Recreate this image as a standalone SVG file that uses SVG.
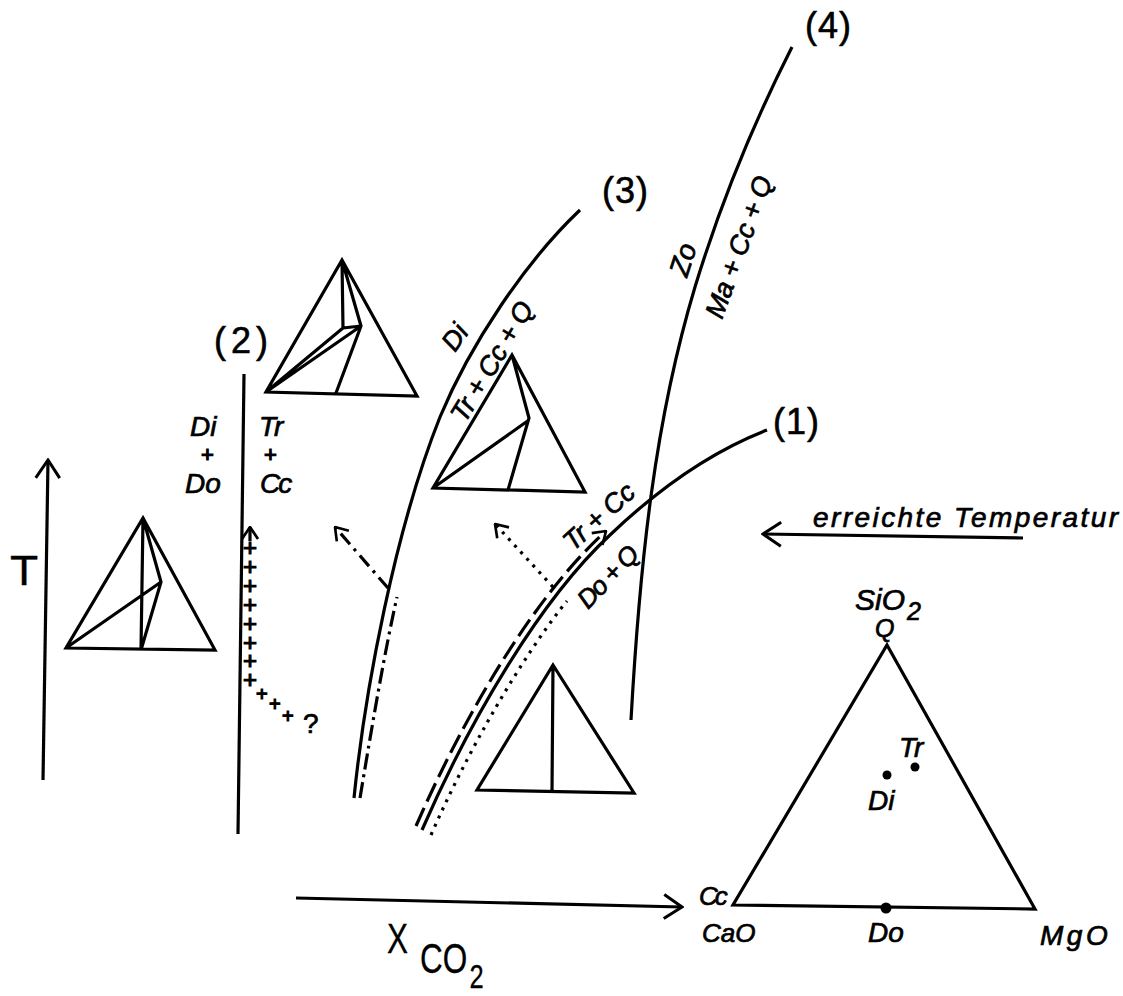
<svg xmlns="http://www.w3.org/2000/svg" width="1123" height="996" viewBox="0 0 1123 996">
<defs>
<marker id="arr" viewBox="0 0 30 30" refX="28" refY="15" markerWidth="30" markerHeight="30" markerUnits="userSpaceOnUse" orient="auto"><path d="M10 3L28 15L10 27" fill="none" stroke="#000" stroke-width="3"/></marker>
<marker id="sm" viewBox="0 0 30 30" refX="28" refY="15" markerWidth="20" markerHeight="20" markerUnits="userSpaceOnUse" orient="auto"><path d="M10 3L28 15L10 27" fill="none" stroke="#000" stroke-width="4"/></marker>
</defs>
<style>
.l{fill:none;stroke:#000;stroke-width:3.2}
.t{fill:none;stroke:#000;stroke-width:3.2;stroke-linejoin:miter}
text{font-family:"Liberation Sans",Arial,sans-serif;font-style:italic;fill:#000;stroke:#000;stroke-width:.7;font-size:28px}
.n{font-style:normal;font-size:36px;letter-spacing:1px;stroke-width:.6}
.u{font-style:normal;stroke-width:.3;font-size:42px}
.p{font-style:normal;font-size:24px;stroke-width:1.2}
.s{font-style:normal;font-size:22px;stroke-width:1.2}
</style>
<rect width="1123" height="996" fill="#fff"/>
<g id="connectors">
<path class="l" d="M43 780L48 460" marker-end="url(#arr)"/>
<path class="l" d="M296 898L682 907" marker-end="url(#arr)"/>
<path class="l" d="M1023 538L763 534" marker-end="url(#arr)"/>
<path class="l" d="M244 374L238 834"/>
<path class="l" d="M354 798C365 690 395 530 440 417C470 345 525 262 580 210"/>
<path class="l" d="M631 720C640 560 655 420 695 287C720 205 755 120 792 47"/>
<path class="l" d="M422 830C470 720 540 600 610 535C655 492 710 452 767 430"/>
<path class="l" stroke-dasharray="20 7" d="M416 826C464 716 534 596 606 531" marker-end="url(#sm)"/>
<path class="l" stroke-dasharray="3 6" d="M431 835C478 728 535 640 567 601"/>
<path class="l" stroke-dasharray="16 5 3 5" d="M360 798C373 720 385 650 397 597"/>
<path class="l" stroke-dasharray="14 6 3 6" d="M388 588L335 527" marker-end="url(#sm)"/>
<path class="l" stroke-dasharray="3 6" d="M553 587L495 524" marker-end="url(#sm)"/>
<path class="l" d="M250 541V527" marker-end="url(#sm)"/>
</g>
<g id="triangle-main">
<path class="t" d="M887 645L1035 909L733 905Z"/>
<circle cx="887" cy="775" r="4.5"/><circle cx="915" cy="767" r="4.5"/><circle cx="886" cy="908" r="5.5"/>
<text x="899" y="757">Tr</text><text x="868" y="810">Di</text>
<text x="855" y="610" style="font-size:30px">SiO<tspan style="font-size:25px" dy="10" dx="2">2</tspan></text>
<text x="875" y="637" style="font-size:25px">Q</text>
<text x="699" y="905" style="letter-spacing:-3px;font-size:26px">Cc</text><text x="702" y="942" style="font-size:26px">CaO</text><text x="868" y="942">Do</text><text x="1040" y="945" style="letter-spacing:3.5px">MgO</text>
</g>
<g id="triangle-a"><path class="t" d="M143 518L215 650L66 648ZM143 518L141 650M143 518L161 582L141 650M66 648L161 582"/></g>
<g id="triangle-b"><path class="t" d="M342 260L417 396L266 392ZM342 260L343 328L266 392M342 260L361 326L336 393M266 392L361 326M343 328L361 326"/></g>
<g id="triangle-c"><path class="t" d="M512 355L585 492L433 488ZM512 355L529 418L508 490M433 488L529 420"/></g>
<g id="triangle-d"><path class="t" d="M553 665L634 793L477 790ZM553 665L552 792"/></g>
<g id="labels">
<text class="n" x="805" y="38">(4)</text><text class="n" x="602" y="203">(3)</text><text class="n" x="214" y="353" style="letter-spacing:5px">(2)</text><text class="n" x="773" y="434">(1)</text>
<text x="813" y="527" textLength="305" lengthAdjust="spacing">erreichte Temperatur</text>
<text x="190" y="436">Di</text><text class="s" x="201" y="462">+</text><text x="185" y="493">Do</text>
<text x="259" y="436">Tr</text><text class="s" x="264" y="462">+</text><text x="260" y="493" style="letter-spacing:-2px">Cc</text>
<text transform="translate(455 353) rotate(-55)" style="font-size:27px">Di</text>
<text transform="translate(465 424) rotate(-59)" style="font-size:27px" textLength="135">Tr + Cc + Q</text>
<text transform="translate(687 278) rotate(-72)" style="font-size:28px">Zo</text>
<text transform="translate(722 320) rotate(-70)" style="font-size:27px" textLength="149">Ma + Cc + Q</text>
<text transform="translate(573 552) rotate(-42)" style="font-size:27px" textLength="86">Tr + Cc</text>
<text transform="translate(588 610) rotate(-46)" style="font-size:26px" textLength="76">Do + Q</text>
<text class="u" transform="translate(10 585) scale(1.1 1)">T</text>
<text class="u" transform="translate(387 953) scale(.75 1)">X</text>
<text class="u" transform="translate(420 973) scale(.75 1)">CO<tspan style="font-size:34px" dy="15" dx="3">2</tspan></text>
<text class="p" x="250" y="534" style="writing-mode:vertical-rl;text-orientation:upright;letter-spacing:-8.1px">++++++++</text>
<text class="p" x="256" y="701" style="font-size:20px">+</text><text class="p" x="269" y="711" style="font-size:20px">+</text><text class="p" x="282" y="723" style="font-size:20px">+</text>
<text x="303" y="733" style="font-style:normal;font-size:28px">?</text>
</g>
</svg>
